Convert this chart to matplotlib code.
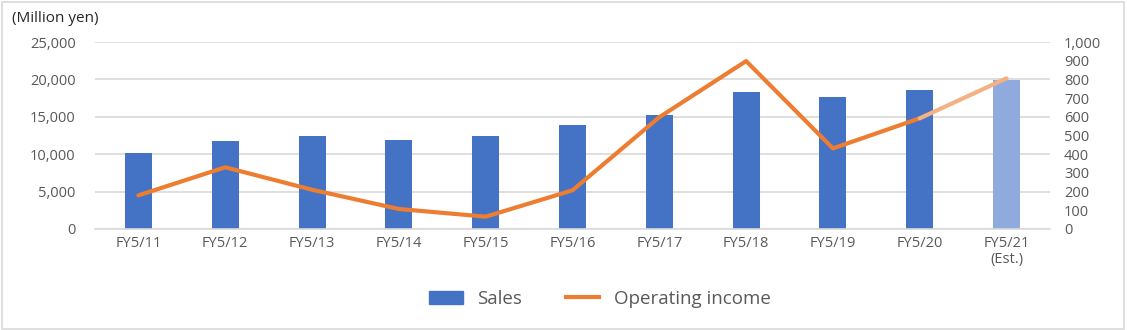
import numpy as np
import matplotlib.pyplot as plt
from matplotlib.patches import Rectangle
from matplotlib.lines import Line2D
from matplotlib.ticker import FuncFormatter

years = ["FY5/11", "FY5/12", "FY5/13", "FY5/14", "FY5/15", "FY5/16",
         "FY5/17", "FY5/18", "FY5/19", "FY5/20", "FY5/21\n(Est.)"]
sales = [10150, 11700, 12370, 11900, 12470, 13900, 15200, 18270, 17600, 18540, 19880]
op_income = [180, 330, 210, 107, 66, 207, 598, 898, 431, 592, 806]

blue = "#4472c4"
blue_est = "#8faadc"
orange = "#ed7d31"
orange_est = "#f4b183"
grey = "#595959"

plt.rcParams["font.family"] = ["Open Sans", "DejaVu Sans"]

fig = plt.figure(figsize=(11.27, 3.3), dpi=100)
fig.patches.append(Rectangle((0.002, 0.004), 0.995, 0.99, transform=fig.transFigure,
                             fill=False, edgecolor="#d9d9d9", linewidth=1.2))

ax = fig.add_axes([95 / 1127, 1 - 229 / 330, (1050 - 95) / 1127, (229 - 42) / 330])
x = np.arange(len(years))
colors = [blue] * (len(years) - 1) + [blue_est]
ax.bar(x, sales, width=0.31, color=colors, zorder=2)
ax.set_ylim(0, 25000)
ax.set_xlim(-0.5, len(years) - 0.5)
ax.set_yticks(range(0, 25001, 5000))
ax.yaxis.set_major_formatter(FuncFormatter(lambda v, p: f"{int(v):,}"))
ax.grid(axis="y", color="#d9d9d9", linewidth=1.2, zorder=0)
ax.set_xticks(x)
ax.set_xticklabels(years, fontsize=10.5, color=grey, linespacing=1.1)
ax.tick_params(axis="y", labelsize=10.5, labelcolor=grey, length=0, pad=14)
ax.tick_params(axis="x", length=0, pad=5)
for s in ax.spines.values():
    s.set_visible(False)
ax.spines["bottom"].set_visible(True)
ax.spines["bottom"].set_color("#d9d9d9")
ax.spines["bottom"].set_linewidth(1.2)

ax2 = ax.twinx()
ax2.plot(x[:-1], op_income[:-1], color=orange, linewidth=3, solid_capstyle="round", zorder=3)
ax2.plot(x[-2:], op_income[-2:], color=orange_est, linewidth=3, solid_capstyle="round", zorder=3)
ax2.set_ylim(0, 1000)
ax2.set_yticks(range(0, 1001, 100))
ax2.yaxis.set_major_formatter(FuncFormatter(lambda v, p: f"{int(v):,}"))
ax2.tick_params(axis="y", labelsize=10.5, labelcolor=grey, length=0, pad=10)
for s in ax2.spines.values():
    s.set_visible(False)

fig.text(12 / 1127, 1 - 18 / 330, "(Million yen)", fontsize=11, color="#262626", va="center")

handles = [Rectangle((0, 0), 1, 1, color=blue),
           Line2D([0], [0], color=orange, linewidth=3)]
fig.legend(handles, ["Sales", "Operating income"], loc="center",
           bbox_to_anchor=(600 / 1127, 1 - 299 / 330), ncol=2, frameon=False,
           fontsize=13.5, handlelength=1.8, columnspacing=2.3, labelcolor=grey)

fig.savefig("out.png", dpi=100)
